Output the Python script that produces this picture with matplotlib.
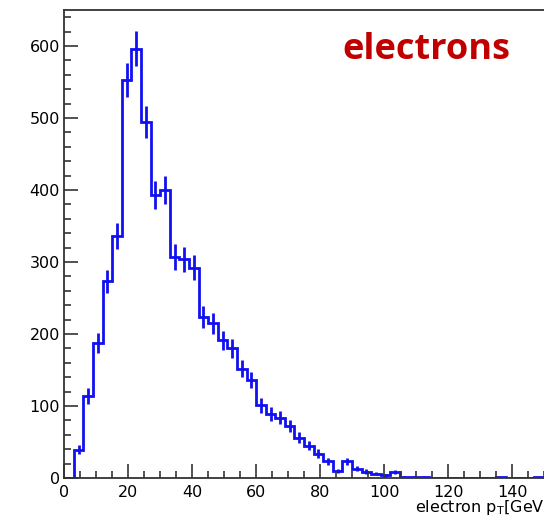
import numpy as np
import matplotlib
matplotlib.use("Agg")
import matplotlib.pyplot as plt
from matplotlib.ticker import MultipleLocator

# electron pT spectrum, 3 GeV bins from 0 to 150 GeV
bin_edges = np.arange(0, 151, 3)
counts = [0, 39, 114, 188, 273, 336, 553, 596, 495, 393,
          400, 307, 304, 292, 224, 215, 191, 180, 152, 136,
          101, 89, 84, 72, 56, 45, 34, 23, 10, 23,
          13, 9, 6, 4, 8, 2, 2, 2, 0, 0,
          0, 0, 0, 0, 0, 1, 0, 0, 0, 1]
x_title = "electron p$_{\\mathregular{T}}$[GeV]"
label = "electrons"

counts = np.array(counts, dtype=float)
centers = 0.5 * (bin_edges[:-1] + bin_edges[1:])
errors = np.sqrt(counts)

plt.rcParams['font.family'] = ['DejaVu Sans']

fig = plt.figure(figsize=(5.44, 5.18), dpi=100)
ax = fig.add_axes([0.118, 0.0772, 0.882, 0.9035])

blue = '#1010f0'
ax.stairs(counts, bin_edges, color=blue, linewidth=2.0)
ax.errorbar(centers, counts, yerr=errors, fmt='none', ecolor=blue, elinewidth=2.0, capsize=0)

ax.set_xlim(0, 150)
ax.set_ylim(0, 650)

# ROOT-like axis style: inward ticks, minor ticks
ax.xaxis.set_major_locator(MultipleLocator(20))
ax.xaxis.set_minor_locator(MultipleLocator(5))
ax.yaxis.set_major_locator(MultipleLocator(100))
ax.yaxis.set_minor_locator(MultipleLocator(20))
ax.tick_params(which='both', direction='in', color='#333333', width=1.2,
               top=False, right=False, labelsize=11.5, labelcolor='black')
ax.tick_params(which='major', length=10)
ax.tick_params(which='minor', length=5)
ax.tick_params(axis='x', pad=5)
ax.tick_params(axis='y', pad=3)

for side in ['left', 'bottom', 'top']:
    ax.spines[side].set_color('#333333')
    ax.spines[side].set_linewidth(1.3)
ax.spines['right'].set_visible(False)

ax.text(1.012, -0.043, x_title, transform=ax.transAxes, ha='right', va='top',
        fontsize=11.5, clip_on=False)

ax.text(0.58, 0.895, label, transform=ax.transAxes, ha='left', va='baseline',
        fontsize=26, fontweight='bold', color='#c00000', family=['Open Sans', 'DejaVu Sans'])

fig.savefig("out.png", dpi=100)
